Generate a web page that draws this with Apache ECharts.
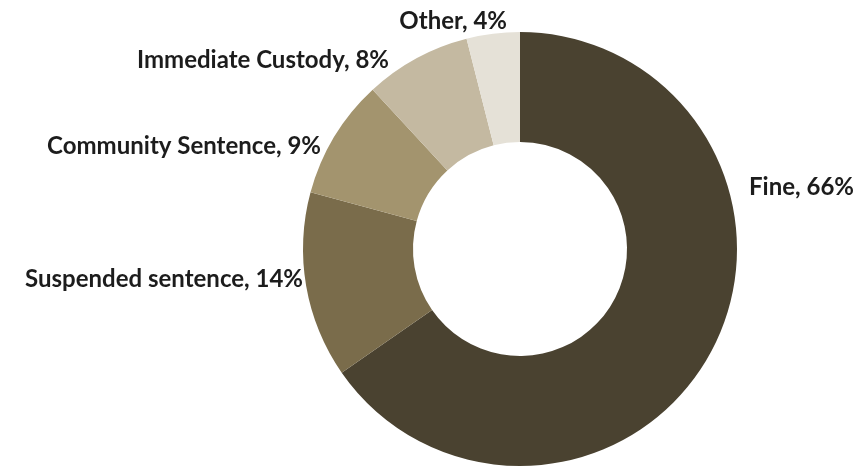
<!DOCTYPE html>
<html>
<head>
<meta charset="utf-8">
<script src="https://cdn.jsdelivr.net/npm/echarts@6/dist/echarts.min.js"></script>
<style>
  html, body { margin: 0; padding: 0; background: #ffffff; }
  #chart { width: 857px; height: 466px; }
</style>
</head>
<body>
<div id="chart"></div>
<script>
// Sentence outcomes, share of total (%)
const categories = ['Fine', 'Suspended sentence', 'Community Sentence', 'Immediate Custody', 'Other'];
const shares = [66, 14, 9, 8, 4];
const sliceColors = ['#4a4230', '#7a6c4b', '#a3946e', '#c4b9a1', '#e5e1d7'];

// Label anchor points (best-fit placement around the ring)
const labelAnchors = {
  'Fine':               { x: 749, y: 187, align: 'left' },
  'Suspended sentence': { x: 303, y: 279, align: 'right' },
  'Community Sentence': { x: 321, y: 146, align: 'right' },
  'Immediate Custody':  { x: 389, y: 60,  align: 'right' },
  'Other':              { x: 507, y: 21,  align: 'right' }
};

const chart = echarts.init(document.getElementById('chart'), null, { renderer: 'canvas' });

chart.setOption({
  backgroundColor: '#ffffff',
  animation: false,
  series: [{
    type: 'pie',
    center: [520, 249],
    radius: [107, 217],
    startAngle: 90,
    clockwise: true,
    avoidLabelOverlap: false,
    data: categories.map((name, i) => ({
      name: name,
      value: shares[i],
      itemStyle: { color: sliceColors[i] }
    })),
    label: {
      show: true,
      position: 'outside',
      formatter: p => p.name + ', ' + p.value + '%',
      fontFamily: 'Lato',
      fontWeight: 'bold',
      fontSize: 24,
      color: '#1c1c1c'
    },
    labelLine: { show: false, length: 6, length2: 0 },
    labelLayout: function (params) {
      const a = labelAnchors[categories[params.dataIndex]];
      return { x: a.x, y: a.y, align: a.align, verticalAlign: 'middle' };
    },
    emphasis: { disabled: true }
  }]
});
</script>
</body>
</html>
